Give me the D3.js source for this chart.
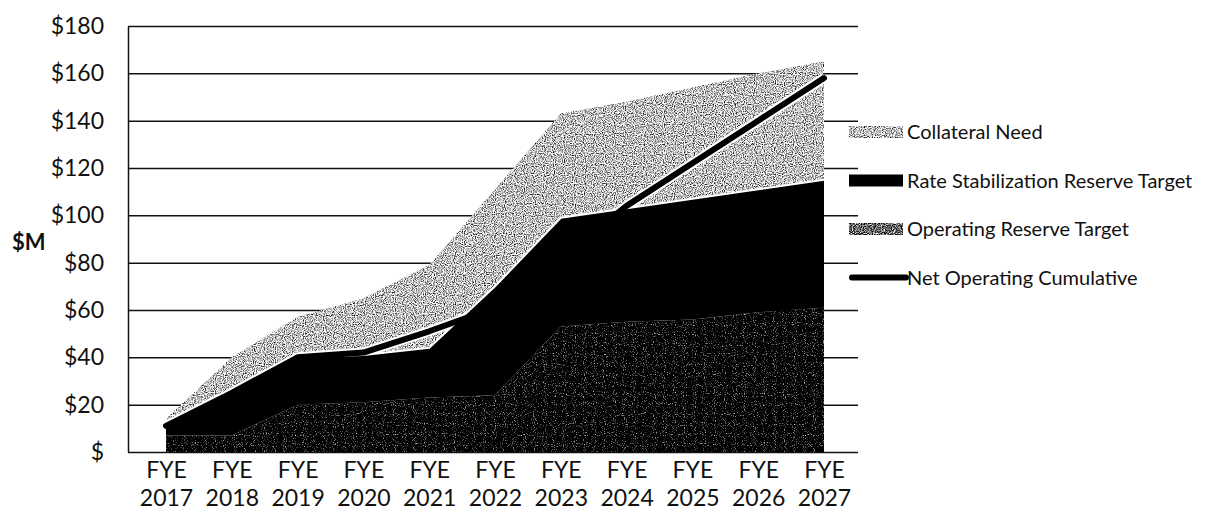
<!DOCTYPE html>
<html>
<head>
<meta charset="utf-8">
<script src="https://cdn.jsdelivr.net/npm/d3@7"></script>
<style>
  body { margin: 0; background: #fff; }
  text { font-family: Lato, "Open Sans", sans-serif; fill: #111; }
</style>
</head>
<body>
<script>
// Data ($M)
var years = ["2017", "2018", "2019", "2020", "2021", "2022", "2023", "2024", "2025", "2026", "2027"];
var operatingReserve = [7, 7, 20, 21, 23, 24, 53, 55, 56, 59, 61];
var rateStabilization = [4, 19, 20, 20, 21, 46, 46, 48, 51, 52, 54];
var collateralNeed = [3, 14, 17, 24, 35, 41, 44, 45, 47, 49, 50];
var netOperating = [11, 25, 40, 42, 51, 61, 82, 104, 122, 140, 158];
var yTicks = [0, 20, 40, 60, 80, 100, 120, 140, 160, 180];

var width = 1224, height = 527;

var svg = d3.select("body").append("svg")
    .attr("width", width)
    .attr("height", height);

// speckled fills, like the scanned pattern fills
var defs = svg.append("defs");
function speckle(id, slope, intercept) {
    var f = defs.append("filter").attr("id", id)
        .attr("x", 0).attr("y", 0).attr("width", 1).attr("height", 1)
        .attr("color-interpolation-filters", "sRGB");
    f.append("feTurbulence").attr("type", "fractalNoise")
        .attr("baseFrequency", 0.9).attr("numOctaves", 1).attr("seed", 4).attr("result", "n");
    f.append("feColorMatrix").attr("in", "n").attr("type", "matrix")
        .attr("values", "1 0 0 0 0  1 0 0 0 0  1 0 0 0 0  0 0 0 0 1").attr("result", "g");
    var ct = f.append("feComponentTransfer").attr("in", "g").attr("result", "c");
    ["feFuncR", "feFuncG", "feFuncB"].forEach(function (fn) {
        ct.append(fn).attr("type", "linear").attr("slope", slope).attr("intercept", intercept);
    });
    f.append("feComposite").attr("in", "c").attr("in2", "SourceGraphic").attr("operator", "in");
}
speckle("texLight", 2.6, -0.55);
speckle("texDark", 3.0, -1.65);
speckle("texMid", 2.6, -0.9);

// Scales
var x = d3.scalePoint()
    .domain(years)
    .range([166, 824]);

var y = d3.scaleLinear()
    .domain([0, 180])
    .range([452, 26]);

var left = 128, right = 858;

// Grid + y labels
var yAxis = svg.append("g")
    .attr("transform", "translate(" + left + ",0)")
    .call(d3.axisLeft(y)
        .tickValues(yTicks)
        .tickSize(-(right - left))
        .tickSizeOuter(0)
        .tickPadding(24)
        .tickFormat(function (d) { return d === 0 ? "$" : "$" + d; }));
yAxis.selectAll("line").attr("stroke", "#111").attr("stroke-width", 1.5);
yAxis.select(".domain").attr("stroke", "#111").attr("stroke-width", 1.5);
yAxis.selectAll("text")
    .attr("font-size", 23)
    .attr("font-family", "Lato, sans-serif")
    .attr("fill", "#111");

svg.append("text")
    .attr("x", 12)
    .attr("y", 250)
    .attr("font-size", 22)
    .attr("font-weight", "bold")
    .text("$M");

// Stacked areas
var rows = years.map(function (yr, i) {
    return {
        year: yr,
        operating: operatingReserve[i],
        rate: rateStabilization[i],
        collateral: collateralNeed[i]
    };
});
var stack = d3.stack().keys(["operating", "rate", "collateral"]);
var series = stack(rows);

var area = d3.area()
    .x(function (d) { return x(d.data.year); })
    .y0(function (d) { return y(d[0]); })
    .y1(function (d) { return y(d[1]); });

var netLine = d3.line()
    .x(function (d, i) { return x(years[i]); })
    .y(function (d) { return y(d); });

var topLine = d3.line()
    .x(function (d) { return x(d.data.year); })
    .y(function (d) { return y(d[1]); });

var plot = svg.append("g");

// collateral (top band)
plot.append("path")
    .attr("d", area(series[2]))
    .attr("fill", "#aaa")
    .attr("filter", "url(#texLight)");

// white casing of the net line, hidden later by the black band
plot.append("path")
    .attr("d", netLine(netOperating))
    .attr("fill", "none")
    .attr("stroke", "#fff")
    .attr("stroke-width", 10)
    .attr("stroke-linejoin", "round");

// operating reserve (bottom band)
plot.append("path")
    .attr("d", area(series[0]))
    .attr("fill", "#111")
    .attr("filter", "url(#texDark)");

// rate stabilization (black band)
plot.append("path")
    .attr("d", area(series[1]))
    .attr("fill", "#000");

plot.append("path")
    .attr("d", topLine(series[1]))
    .attr("fill", "none")
    .attr("stroke", "#fff")
    .attr("stroke-width", 2);

// net operating cumulative
plot.append("path")
    .attr("d", netLine(netOperating))
    .attr("fill", "none")
    .attr("stroke", "#000")
    .attr("stroke-width", 6)
    .attr("stroke-linecap", "round")
    .attr("stroke-linejoin", "round");

// x labels, two lines
var xAxis = svg.append("g")
    .attr("transform", "translate(0," + y(0) + ")")
    .call(d3.axisBottom(x).tickSize(0).tickPadding(0));
xAxis.select(".domain").remove();
xAxis.selectAll("text").each(function (d) {
    var t = d3.select(this).text("")
        .attr("y", 0).attr("dy", null)
        .attr("font-size", 23)
        .attr("font-family", "Lato, sans-serif")
        .attr("fill", "#111");
    t.append("tspan").attr("x", 0).attr("y", 26).text("FYE");
    t.append("tspan").attr("x", 0).attr("y", 54).text(d);
});

// Legend
var legendItems = [
    { name: "Collateral Need", type: "area", fill: "#aaa", filter: "url(#texLight)" },
    { name: "Rate Stabilization Reserve Target", type: "area", fill: "#000", filter: null },
    { name: "Operating Reserve Target", type: "area", fill: "#777", filter: "url(#texMid)" },
    { name: "Net Operating Cumulative", type: "line" }
];

var legend = svg.append("g")
    .attr("class", "legend")
    .attr("transform", "translate(849,132)");

legendItems.forEach(function (item, i) {
    var g = legend.append("g").attr("transform", "translate(0," + (i * 48.5) + ")");
    if (item.type === "area") {
        var r = g.append("rect")
            .attr("x", 0).attr("y", -6)
            .attr("width", 54).attr("height", 12)
            .attr("fill", item.fill);
        if (item.filter) r.attr("filter", item.filter);
    } else {
        g.append("line")
            .attr("x1", 3).attr("x2", 57)
            .attr("y1", 0).attr("y2", 0)
            .attr("stroke", "#000")
            .attr("stroke-width", 6)
            .attr("stroke-linecap", "round");
    }
    g.append("text")
        .attr("x", 58)
        .attr("y", 7)
        .attr("font-size", 20)
        .text(item.name);
});
</script>
</body>
</html>
